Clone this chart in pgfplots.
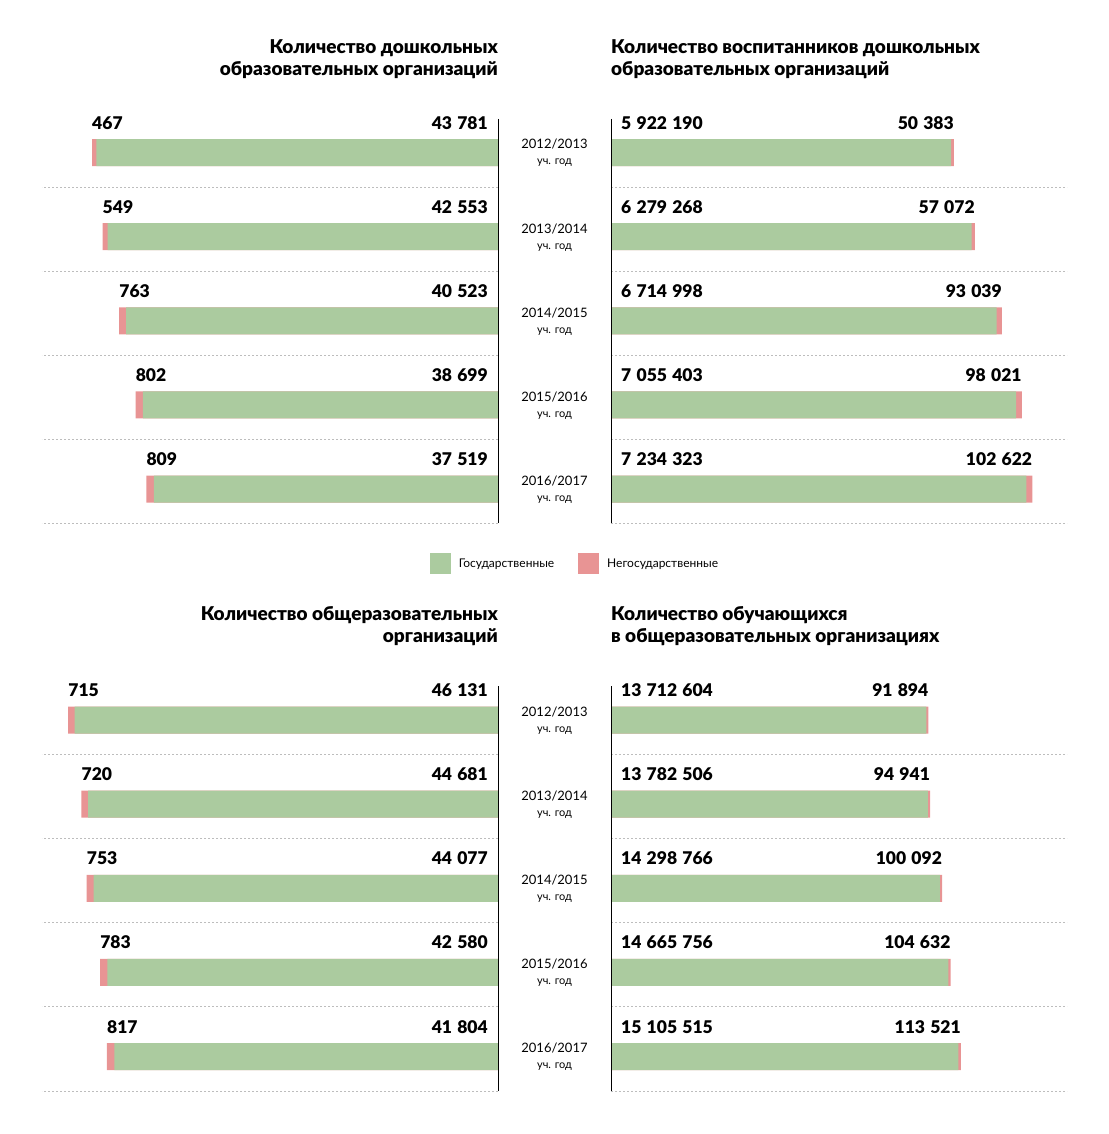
\documentclass[border=0pt]{standalone}
\usepackage{fontspec}
\setmainfont{Lato}
\newfontfamily\heavy{Lato Black}
\usepackage{pgfplots}
\usepackage{pgfplotstable}
\pgfplotsset{compat=1.18}
\usepackage{siunitx}
\sisetup{mode=text, group-separator={\kern0.3em}, group-minimum-digits=4,
  reset-text-family=false, reset-text-series=false, reset-text-shape=false}
\definecolor{gov}{HTML}{ABCB9F}
\definecolor{priv}{HTML}{E89494}
\definecolor{gridc}{HTML}{BDBDBD}

\pgfplotstableread{
row gov priv
1 43781 467
2 42553 549
3 40523 763
4 38699 802
5 37519 809
}\tDO
\pgfplotstableread{
row gov priv
1 5922190 50383
2 6279268 57072
3 6714998 93039
4 7055403 98021
5 7234323 102622
}\tDV
\pgfplotstableread{
row gov priv
1 46131 715
2 44681 720
3 44077 753
4 42580 783
5 41804 817
}\tOO
\pgfplotstableread{
row gov priv
1 13712604 91894
2 13782506 94941
3 14298766 100092
4 14665756 104632
5 15105515 113521
}\tOU

\newcommand{\fmtnum}{\heavy\expandafter\num\expandafter{\pgfplotspointmeta}}
\tikzset{ttl/.style={font=\heavy\fontsize{19}{22}\selectfont, inner sep=0pt}}
\pgfplotsset{
  panel/.style={scale only axis, width=456pt, height=420.5pt,
    ymin=0.41, ymax=5.41, y dir=reverse, xmin=0,
    axis line style={draw=none}, xtick=\empty, ytick=\empty,
    major tick length=0pt,
    extra y ticks={1.41,2.41,3.41,4.41,5.41}, extra y tick labels={},
    extra y tick style={grid=major, major grid style={gridc, line width=1pt, dash pattern=on 2pt off 2pt}},
    clip=false},
  sqlegend/.style={legend image code/.code={\fill[##1] (0pt,-10.5pt) rectangle (21pt,10.5pt); \path (27pt,0pt);}},
  redbar/.style={xbar, bar width=27pt, bar shift=0pt, fill=priv, draw=none, forget plot},
  greenbar/.style={xbar, bar width=27pt, bar shift=0pt, fill=gov, draw=none, forget plot},
  lab/.style={draw=none, mark=none, forget plot, point meta=explicit symbolic,
    nodes near coords={\fmtnum},
    nodes near coords style={font=\fontsize{17.5}{19}\selectfont, inner sep=0pt, yshift=23.5pt}},
  years/.style={ytick={1,2,3,4,5},
    yticklabels={{2012/2013\\{\fontsize{11}{13}\selectfont уч. год}},
                 {2013/2014\\{\fontsize{11}{13}\selectfont уч. год}},
                 {2014/2015\\{\fontsize{11}{13}\selectfont уч. год}},
                 {2015/2016\\{\fontsize{11}{13}\selectfont уч. год}},
                 {2016/2017\\{\fontsize{11}{13}\selectfont уч. год}}},
    yticklabel style={align=center, anchor=center, xshift=-56.5pt, yshift=-0.5pt, font=\fontsize{13}{16}\selectfont}}
}

\begin{document}
\begin{tikzpicture}
\useasboundingbox (0,0) rectangle (1108pt,1134pt);

% Top-left
\begin{axis}[panel, at={(42pt,610.5pt)}, anchor=south west, x dir=reverse, xmax=49700]
\addplot[redbar] table[x expr=\thisrow{gov}+\thisrow{priv}, y=row] {\tDO};
\addplot[greenbar] table[x=gov, y=row] {\tDO};
\addplot[lab, nodes near coords style={anchor=base east, xshift=-10pt}] table[x expr=0, y=row, meta=gov] {\tDO};
\addplot[lab, nodes near coords style={anchor=base west}] table[x expr=\thisrow{gov}+\thisrow{priv}, y=row, meta=priv] {\tDO};
\draw[black, line width=1pt] (axis cs:0,0.6) -- (axis cs:0,5.41);
\node[ttl, anchor=base east, align=right] at ([yshift=27pt]axis description cs:1,1) {Количество дошкольных\\образовательных организаций};
\end{axis}

% Top-right
\begin{axis}[panel, years, sqlegend, at={(611pt,610.5pt)}, anchor=south west, xmax=7941000,
  legend columns=2,
  legend style={at={(-0.0789,-0.0963)}, anchor=center, draw=none, fill=none,
    font=\fontsize{12}{14}\selectfont, /tikz/every even column/.append style={column sep=22pt}},
  legend cell align=left]
\addplot[redbar] table[x expr=\thisrow{gov}+\thisrow{priv}, y=row] {\tDV};
\addplot[greenbar] table[x=gov, y=row] {\tDV};
\addplot[lab, nodes near coords style={anchor=base west, xshift=10pt}] table[x expr=0, y=row, meta=gov] {\tDV};
\addplot[lab, nodes near coords style={anchor=base east}] table[x expr=\thisrow{gov}+\thisrow{priv}, y=row, meta=priv] {\tDV};
\draw[black, line width=1pt] (axis cs:0,0.6) -- (axis cs:0,5.41);
\node[ttl, anchor=base west, align=left] at ([yshift=27pt]axis description cs:0,1) {Количество воспитанников дошкольных\\образовательных организаций};
\addlegendimage{fill=gov, draw=none}
\addlegendentry{Государственные}
\addlegendimage{fill=priv, draw=none}
\addlegendentry{Негосударственные}
\end{axis}

% Bottom-left
\begin{axis}[panel, at={(42pt,43pt)}, anchor=south west, x dir=reverse, xmax=49700]
\addplot[redbar] table[x expr=\thisrow{gov}+\thisrow{priv}, y=row] {\tOO};
\addplot[greenbar] table[x=gov, y=row] {\tOO};
\addplot[lab, nodes near coords style={anchor=base east, xshift=-10pt}] table[x expr=0, y=row, meta=gov] {\tOO};
\addplot[lab, nodes near coords style={anchor=base west}] table[x expr=\thisrow{gov}+\thisrow{priv}, y=row, meta=priv] {\tOO};
\draw[black, line width=1pt] (axis cs:0,0.6) -- (axis cs:0,5.41);
\node[ttl, anchor=base east, align=right] at ([yshift=28pt]axis description cs:1,1) {Количество общеразовательных\\организаций};
\end{axis}

% Bottom-right
\begin{axis}[panel, years, at={(611pt,43pt)}, anchor=south west, xmax=19830000]
\addplot[redbar] table[x expr=\thisrow{gov}+\thisrow{priv}, y=row] {\tOU};
\addplot[greenbar] table[x=gov, y=row] {\tOU};
\addplot[lab, nodes near coords style={anchor=base west, xshift=10pt}] table[x expr=0, y=row, meta=gov] {\tOU};
\addplot[lab, nodes near coords style={anchor=base east}] table[x expr=\thisrow{gov}+\thisrow{priv}, y=row, meta=priv] {\tOU};
\draw[black, line width=1pt] (axis cs:0,0.6) -- (axis cs:0,5.41);
\node[ttl, anchor=base west, align=left] at ([yshift=28pt]axis description cs:0,1) {Количество обучающихся\\в общеразовательных организациях};
\end{axis}
\end{tikzpicture}
\end{document}
